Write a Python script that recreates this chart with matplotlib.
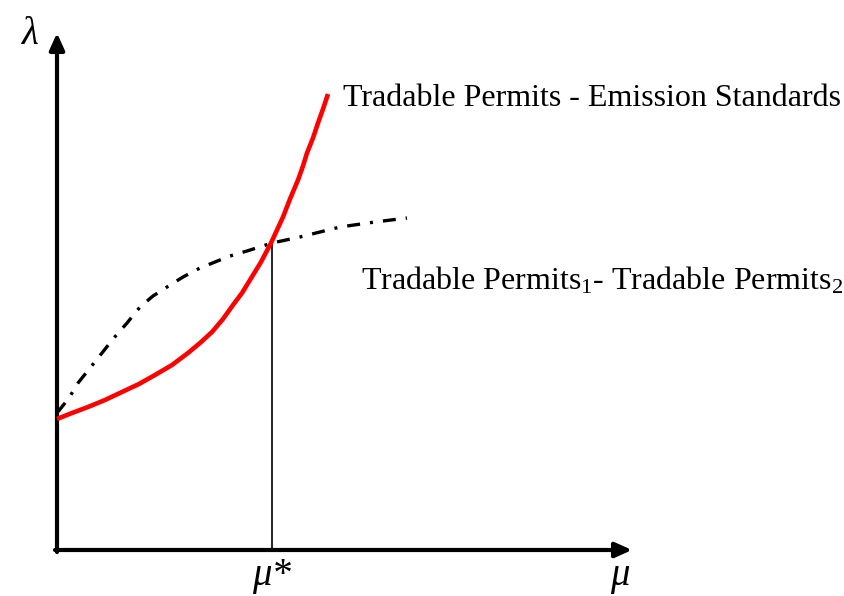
import matplotlib.pyplot as plt
import numpy as np

# curve values (mu, lambda) in arbitrary units
mu_red = [0, 15, 31, 48, 65, 82, 98, 115, 131, 143, 155, 166, 176, 185, 193,
          204, 214, 220, 226, 233, 241, 246, 250, 256, 261, 266, 271]
lam_red = [131, 137, 143, 150, 158, 166, 175, 185, 197, 207, 218, 231, 245, 257, 270,
           288, 307, 320, 333, 351, 370, 384, 397, 412, 427, 441, 456]

mu_dd = [0, 12, 21, 33, 45, 56, 70, 83, 96, 110, 126, 143, 158, 173, 190, 215, 243, 283, 318, 350]
lam_dd = [137, 152, 167, 182, 197, 211, 227, 243, 254, 263, 273, 282, 288, 294, 299, 307, 313, 323, 328, 332]

mu_star = 215
lam_star = 307

plt.rcParams['font.family'] = ['Liberation Serif', 'DejaVu Serif']
plt.rcParams['mathtext.fontset'] = 'custom'
plt.rcParams['mathtext.rm'] = 'Liberation Serif'
plt.rcParams['mathtext.it'] = 'Liberation Serif:italic'

fig = plt.figure(figsize=(8.44, 5.96), dpi=100)
ax = fig.add_axes([0, 0, 1, 1])
ax.set_xlim(-57, 787)
ax.set_ylim(-46, 550)
ax.axis('off')

# axes with arrows
arrow = dict(arrowstyle='-|>,head_length=1.0,head_width=0.45', lw=3.0, color='black',
             shrinkA=0, shrinkB=0)
ax.annotate('', xy=(0, 517), xytext=(0, -2), arrowprops=arrow)
ax.annotate('', xy=(575, 0), xytext=(-2, 0), arrowprops=arrow)

# curves
ax.plot(mu_dd, lam_dd, color='black', lw=2.4, dashes=(3.9, 3.0, 0.9, 3.0), zorder=3)
ax.plot(mu_red, lam_red, color='red', lw=3.3, solid_capstyle='butt',
        solid_joinstyle='round', zorder=4)
ax.plot([mu_star, mu_star], [0, lam_star], color='black', lw=1.2, zorder=2)

# labels
ax.text(286, 444, 'Tradable Permits - Emission Standards', fontsize=23,
        ha='left', va='baseline')
ax.text(304, 261, r'Tradable Permits$_\mathrm{1}$- Tradable Permits$_\mathrm{2}$', fontsize=23,
        ha='left', va='baseline')
ax.text(-27, 515, 'λ', fontsize=28, fontstyle='italic', ha='center', va='center')
ax.text(mu_star, -26, 'μ*', fontsize=28, fontstyle='italic', ha='center', va='center')
ax.text(563, -25, 'μ', fontsize=28, fontstyle='italic', ha='center', va='center')

plt.savefig('out.png', dpi=100)
